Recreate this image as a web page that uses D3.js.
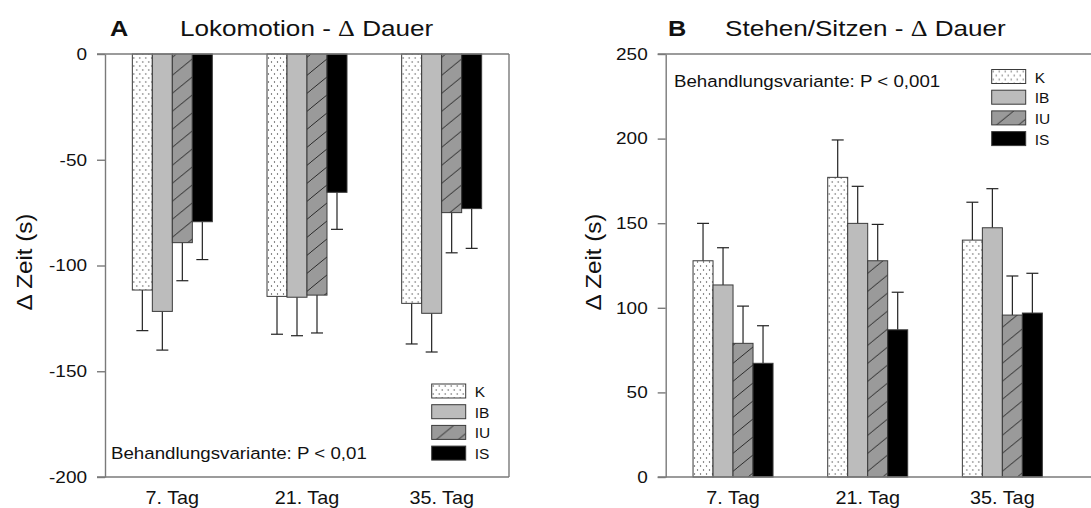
<!DOCTYPE html>
<html>
<head>
<meta charset="utf-8">
<script src="https://cdn.jsdelivr.net/npm/d3@7"></script>
<style>
  body { margin: 0; background: #fff; }
  svg { display: block; font-family: "Liberation Sans", Arial, sans-serif; }
</style>
</head>
<body>
<svg width="1091" height="508"></svg>
<script>
// Kategorien
const days = ["7. Tag", "21. Tag", "35. Tag"];
const groups = ["K", "IB", "IU", "IS"];

// A: Lokomotion - Mittelwerte und Fehler (s)
const lokoK = [-111.6, -114.6, -117.9];
const lokoIB = [-121.7, -115.0, -122.6];
const lokoIU = [-89.2, -114.0, -75.0];
const lokoIS = [-79.3, -65.4, -73.1];
const lokoErrK = [19.2, 17.9, 19.2];
const lokoErrIB = [18.3, 18.2, 18.3];
const lokoErrIU = [18.0, 17.9, 19.0];
const lokoErrIS = [17.9, 17.5, 18.8];

// B: Stehen/Sitzen
const stehK = [127.8, 177.1, 140.0];
const stehIB = [113.5, 149.9, 147.3];
const stehIU = [79.0, 127.8, 95.7];
const stehIS = [67.2, 87.0, 96.9];
const stehErrK = [22.1, 22.1, 22.4];
const stehErrIB = [22.0, 21.9, 23.1];
const stehErrIU = [22.0, 21.5, 23.1];
const stehErrIS = [22.2, 22.2, 23.5];

const ticksA = [0, -50, -100, -150, -200];
const ticksB = [0, 50, 100, 150, 200, 250];

const svg = d3.select("svg");
const defs = svg.append("defs");

// Punktmuster für K
const dots = defs.append("pattern").attr("id", "dots")
  .attr("patternUnits", "userSpaceOnUse").attr("width", 6).attr("height", 8);
dots.append("rect").attr("width", 6).attr("height", 8).attr("fill", "#fff");
dots.append("circle").attr("cx", 1.5).attr("cy", 2).attr("r", 0.65).attr("fill", "#444");
dots.append("circle").attr("cx", 4.5).attr("cy", 6).attr("r", 0.65).attr("fill", "#444");

// Schraffur für IU
const hatch = defs.append("pattern").attr("id", "hatch")
  .attr("patternUnits", "userSpaceOnUse").attr("width", 22).attr("height", 18);
hatch.append("rect").attr("width", 22).attr("height", 18).attr("fill", "#9a9a9a");
hatch.append("path").attr("d", "M-2,19.6 L24,-1.6").attr("stroke", "#2a2a2a").attr("stroke-width", 1);

const fills = { K: "url(#dots)", IB: "#bcbcbc", IU: "url(#hatch)", IS: "#000" };

// Text etwas breiter ziehen (Schrift im Original ist gestreckt)
function stretch(sel, k) {
  sel.each(function() {
    const t = d3.select(this);
    const x = +t.attr("x") || 0, y = +t.attr("y") || 0;
    t.attr("x", 0).attr("y", 0).attr("transform", `translate(${x},${y}) scale(${k},1)`);
  });
}

function toRows(series, errs) {
  return days.map((day, i) => ({
    day,
    bars: groups.map((g, j) => ({ group: g, value: series[j][i], err: errs[j][i] }))
  }));
}

function drawPanel(opt) {
  const g = svg.append("g");
  const x0 = d3.scaleBand().domain(days).range([opt.left, opt.right])
    .paddingInner(0.406).paddingOuter(0.203);
  const x1 = d3.scaleBand().domain(groups).range([0, x0.bandwidth()]);
  const y = d3.scaleLinear().domain(opt.domain).range([54, 477]);
  const base = y(0);

  const grp = g.selectAll(".grp").data(opt.rows).join("g")
    .attr("transform", d => `translate(${x0(d.day)},0)`);

  // Fehlerbalken (vom Nullpunkt weg)
  grp.selectAll(".err").data(d => d.bars).join("g").each(function(d) {
    const cx = x1(d.group) + x1.bandwidth() / 2;
    const end = d.value + Math.sign(d.value) * d.err;
    const s = d3.select(this);
    s.append("line").attr("x1", cx).attr("x2", cx).attr("y1", y(d.value)).attr("y2", y(end))
      .attr("stroke", "#222").attr("stroke-width", 1.2);
    s.append("line").attr("x1", cx - 6).attr("x2", cx + 6).attr("y1", y(end)).attr("y2", y(end))
      .attr("stroke", "#222").attr("stroke-width", 1.2);
  });

  // Balken
  grp.selectAll("rect").data(d => d.bars).join("rect")
    .attr("x", d => x1(d.group))
    .attr("width", x1.bandwidth())
    .attr("y", d => Math.min(y(d.value), base))
    .attr("height", d => Math.abs(y(d.value) - base))
    .attr("fill", d => fills[d.group])
    .attr("stroke", "#3a3a3a").attr("stroke-width", 1);

  // Rahmen
  const frameColor = "#7a7a7a";
  g.append("line").attr("x1", opt.left - 8).attr("x2", opt.frameRight).attr("y1", 54).attr("y2", 54)
    .attr("stroke", frameColor).attr("stroke-width", 1.4);
  g.append("line").attr("x1", opt.left - 8).attr("x2", opt.frameRight).attr("y1", 477).attr("y2", 477)
    .attr("stroke", frameColor).attr("stroke-width", 1.4);
  g.append("line").attr("x1", opt.frameRight).attr("x2", opt.frameRight).attr("y1", 54).attr("y2", 477)
    .attr("stroke", frameColor).attr("stroke-width", 1.4);

  // y-Achse
  const ax = g.append("g").attr("transform", `translate(${opt.left},0)`)
    .call(d3.axisLeft(y).tickValues(opt.ticks).tickSize(8).tickSizeOuter(0).tickPadding(10)
      .tickFormat(d => String(d)));
  ax.attr("font-size", null).attr("font-family", null);
  ax.select(".domain").attr("stroke", frameColor).attr("stroke-width", 1.4);
  ax.selectAll(".tick line").attr("stroke", frameColor).attr("stroke-width", 1.4);
  const tt = ax.selectAll(".tick text").attr("font-size", 16.5).attr("fill", "#111");
  stretch(tt, 1.15);

  // x-Beschriftung
  const xl = g.selectAll(".xl").data(days).join("text")
    .attr("x", d => x0(d) + x0.bandwidth() / 2).attr("y", 504)
    .attr("text-anchor", "middle").attr("font-size", 18).attr("fill", "#111")
    .text(d => d);
  stretch(xl, 1.1);

  // y-Titel
  g.append("text").attr("transform", `translate(${opt.ylabX},262) rotate(-90) scale(1.1,1)`)
    .attr("text-anchor", "middle").attr("font-size", 22).attr("fill", "#111")
    .text("Δ Zeit (s)");

  // Titel
  const lt = g.append("text").attr("x", opt.letterX).attr("y", 36).attr("font-size", 22)
    .attr("font-weight", "bold").attr("fill", "#111").text(opt.letter);
  stretch(lt, 1.15);
  const t = g.append("text").attr("x", opt.titleX).attr("y", 36).attr("font-size", 22.5).attr("fill", "#111");
  t.append("tspan").text(opt.title + " - ");
  t.append("tspan").attr("font-family", "Liberation Serif, serif").text("Δ");
  t.append("tspan").text(" Dauer");
  stretch(t, 1.16);

  // Statistik
  const st = g.append("text").attr("x", opt.statX).attr("y", opt.statY).attr("font-size", 17).attr("fill", "#111")
    .text(opt.stat);
  stretch(st, 1.1);

  // Legende
  const leg = g.selectAll(".leg").data(groups).join("g")
    .attr("transform", (d, i) => `translate(${opt.legX},${opt.legY + i * 20.7})`);
  leg.append("rect").attr("width", 34).attr("height", 14)
    .attr("fill", d => fills[d]).attr("stroke", "#3a3a3a").attr("stroke-width", 1);
  leg.append("text").attr("x", 43).attr("y", 13).attr("font-size", 15.5).attr("fill", "#111")
    .text(d => d);
}

drawPanel({
  left: 105, right: 509, frameRight: 509,
  domain: [0, -200], ticks: ticksA,
  rows: toRows([lokoK, lokoIB, lokoIU, lokoIS], [lokoErrK, lokoErrIB, lokoErrIU, lokoErrIS]),
  ylabX: 32, letter: "A", letterX: 110, titleX: 180, title: "Lokomotion",
  stat: "Behandlungsvariante: P < 0,01", statX: 111, statY: 459,
  legX: 431.7, legY: 384
});

drawPanel({
  left: 665.7, right: 1069.7, frameRight: 1100,
  domain: [250, 0], ticks: ticksB,
  rows: toRows([stehK, stehIB, stehIU, stehIS], [stehErrK, stehErrIB, stehErrIU, stehErrIS]),
  ylabX: 601, letter: "B", letterX: 668, titleX: 725, title: "Stehen/Sitzen",
  stat: "Behandlungsvariante: P < 0,001", statX: 674, statY: 87,
  legX: 991.7, legY: 69.5
});
</script>
</body>
</html>
